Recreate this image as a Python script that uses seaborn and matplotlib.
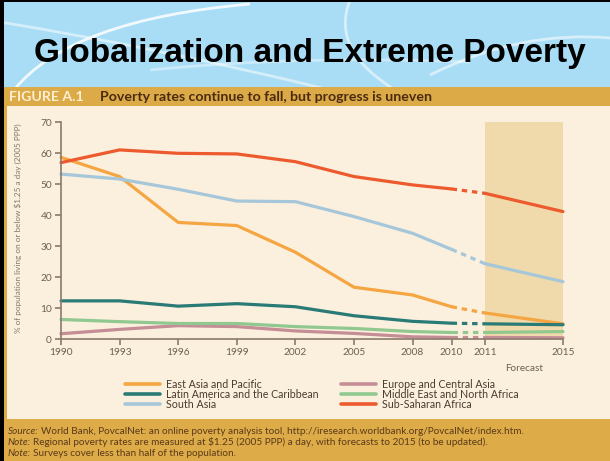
import pandas as pd
import matplotlib
matplotlib.use('Agg')
import matplotlib.pyplot as plt
import matplotlib.patches as mpatches
from matplotlib.path import Path
from matplotlib.lines import Line2D
import seaborn as sns

# values (% of population below $1.25 a day)
years = [1990, 1993, 1996, 1999, 2002, 2005, 2008, 2010, 2011, 2015]
east_asia = [58.6, 52.4, 37.6, 36.6, 28.0, 16.7, 14.2, 10.4, 8.4, 4.9]
latin_america = [12.3, 12.3, 10.6, 11.4, 10.4, 7.5, 5.7, 5.1, 4.9, 4.6]
south_asia = [53.2, 51.6, 48.3, 44.5, 44.3, 39.5, 34.1, 28.9, 24.3, 18.5]
europe = [1.7, 3.1, 4.3, 4.0, 2.6, 1.8, 0.7, 0.5, 0.5, 0.4]
middle_east = [6.3, 5.6, 5.0, 5.0, 4.0, 3.4, 2.4, 2.1, 2.1, 2.4]
sub_saharan = [56.9, 61.0, 59.9, 59.7, 57.2, 52.4, 49.7, 48.4, 47.0, 41.1]

regions = ['East Asia and Pacific', 'Latin America and the Caribbean', 'South Asia',
           'Europe and Central Asia', 'Middle East and North Africa', 'Sub-Saharan Africa']
series = [east_asia, latin_america, south_asia, europe, middle_east, sub_saharan]
colors = ['#f5a541', '#2a7a76', '#a5c7d9', '#c58d96', '#90c890', '#ec5a2e']

last_actual = 2010
first_forecast = 2011
forecast_gap = 0.7  # the chart leaves extra room between 2010 and 2011

df = pd.DataFrame({
    'year': years * len(regions),
    'region': [r for r in regions for _ in years],
    'value': [v for s in series for v in s],
})
df['pos'] = df['year'] + forecast_gap * (df['year'] >= first_forecast)

def pos(y):
    return y + forecast_gap * (y >= first_forecast)

sns.set_style('ticks')
plt.rcParams['font.family'] = ['Lato', 'DejaVu Sans']

W, H = 610, 461
fig = plt.figure(figsize=(W / 100, H / 100), dpi=100)

# slide background, in pixel coordinates
bg = fig.add_axes([0, 0, 1, 1], zorder=-1)
bg.set_xlim(0, W)
bg.set_ylim(H, 0)
bg.axis('off')
bg.add_patch(mpatches.Rectangle((0, 0), W, 88, color='#a9ddf6', lw=0))
for p0, p1, p2, a in [((14, 90), (70, 20), (250, 4), 0.85),
                      ((0, 22), (160, 48), (330, 90), 0.5),
                      ((350, 0), (330, 50), (395, 90), 0.55),
                      ((430, 75), (520, 30), (610, 38), 0.55),
                      ((150, 70), (300, 55), (470, 62), 0.4)]:
    bg.add_patch(mpatches.PathPatch(Path([p0, p1, p2], [Path.MOVETO, Path.CURVE3, Path.CURVE3]),
                                    fc='none', ec='white', lw=2.0, alpha=a))
bg.add_patch(mpatches.Rectangle((0, 87), W, 19, color='#dcab47', lw=0))
bg.add_patch(mpatches.Rectangle((0, 106), W, 313, color='#fbf0de', lw=0))
bg.add_patch(mpatches.Rectangle((0, 419), W, 42, color='#ddab47', lw=0))
bg.add_patch(mpatches.Rectangle((4, 106), 3, 313, color='#dcab47', lw=0))
bg.add_patch(mpatches.Rectangle((0, 0), 4, H, color='black', lw=0))
bg.add_patch(mpatches.Rectangle((0, 0), W, 2, color='black', lw=0))

fig.text(309.5 / W, 1 - 62 / H, 'Globalization and Extreme Poverty', ha='center', va='baseline',
         fontsize=24, fontweight='bold', family=['Liberation Sans', 'DejaVu Sans'], color='black')
fig.text(9 / W, 1 - 96 / H, 'FIGURE A.1', ha='left', va='center_baseline',
         fontsize=10.2, fontweight='bold', color='#fcefd2')
fig.text(100 / W, 1 - 96 / H, 'Poverty rates continue to fall, but progress is uneven', ha='left',
         va='center_baseline', fontsize=10.2, fontweight='bold', color='#4a2b10')

# chart
ax = fig.add_axes([61 / W, 1 - 339 / H, 502 / W, 217 / H])
ax.set_facecolor('none')
ax.axvspan(pos(first_forecast), pos(2015), color='#f0d9aa', lw=0, zorder=0)

palette = dict(zip(regions, colors))
hist = df[df['year'] <= last_actual]
fcst = df[df['year'] >= first_forecast]
bridge = df[df['year'].isin([last_actual, first_forecast])]
common = dict(x='pos', y='value', hue='region', hue_order=regions, palette=palette,
              errorbar=None, legend=False, lw=2.3, clip_on=False, ax=ax)
sns.lineplot(data=hist, **common)
sns.lineplot(data=fcst, **common)
sns.lineplot(data=bridge, linestyle=(0, (1.7, 1.5)), **common)

ax.set_xlim(years[0], pos(years[-1]))
ax.set_ylim(0, 70)
ax.set_yticks(range(0, 71, 10))
ax.set_xticks([pos(y) for y in years])
ax.set_xticklabels([str(y) for y in years])
sns.despine(ax=ax)
axis_col = '#8b7a6b'
for s in ['left', 'bottom']:
    ax.spines[s].set_color(axis_col)
    ax.spines[s].set_linewidth(1.2)
ax.tick_params(colors=axis_col, labelcolor='#6e5e52', labelsize=7.3, length=4, width=1.2, pad=2.5)
ax.set_xlabel('')
ax.set_ylabel('% of population living on or below $1.25 a day (2005 PPP)', fontsize=5.9, color='#85766a')
ax.yaxis.set_label_coords(-0.077, 0.51)
ax.text((pos(first_forecast) + pos(2015)) / 2, -0.138, 'Forecast', transform=ax.get_xaxis_transform(),
        ha='center', va='center', fontsize=7.2, color='#6e5e52')

# legend in two columns
handles = [Line2D([], [], color=c, lw=2.6) for c in colors]
leg_kw = dict(frameon=False, loc='upper left', fontsize=7.7, handlelength=3.3, handletextpad=0.55,
              labelspacing=-0.1, borderpad=0, borderaxespad=0, labelcolor='#4a3a2e')
fig.legend(handles[:3], regions[:3], bbox_to_anchor=(125 / W, 1 - 379 / H), **leg_kw)
fig.legend(handles[3:], regions[3:], bbox_to_anchor=(341 / W, 1 - 379 / H), **leg_kw)

# source notes
notes = [('Source:', 'World Bank, PovcalNet: an online poverty analysis tool, '
                     'http://iresearch.worldbank.org/PovcalNet/index.htm.', 434),
         ('Note:', 'Regional poverty rates are measured at $1.25 (2005 PPP) a day, '
                   'with forecasts to 2015 (to be updated).', 445),
         ('Note:', 'Surveys cover less than half of the population.', 456)]
note_col = '#5a3a1b'
for head, body, y in notes:
    t = fig.text(8 / W, 1 - y / H, head, style='italic', fontsize=7.2, color=note_col, va='baseline')
    ax.annotate(body, xy=(1, 0), xycoords=t, xytext=(1.5, 0), textcoords='offset points',
                ha='left', va='bottom', fontsize=7.2, color=note_col, annotation_clip=False)

fig.savefig('out.png', dpi=100)
